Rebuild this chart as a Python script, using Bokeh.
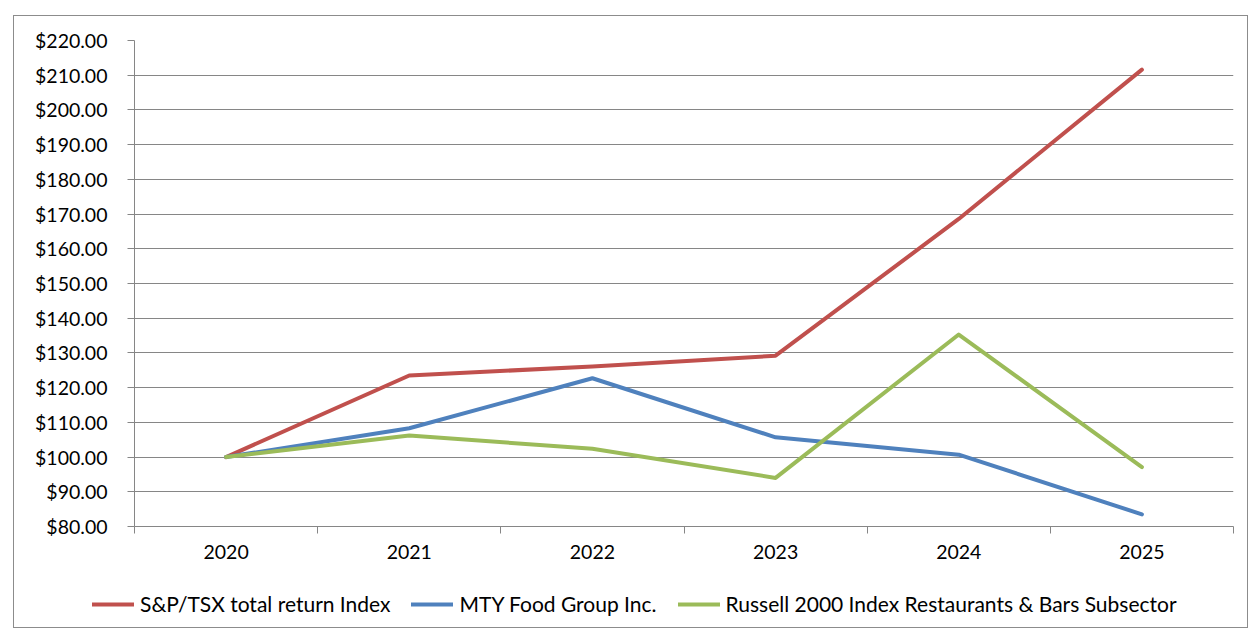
from bokeh.plotting import figure
from bokeh.layouts import column
from bokeh.models import FixedTicker, NumeralTickFormatter, Legend, LegendItem, Range1d
from bokeh.embed import file_html
from bokeh.resources import INLINE

years = ["2020", "2021", "2022", "2023", "2024", "2025"]
sp_tsx = [100.0, 123.5, 126.1, 129.2, 168.6, 211.6]
mty = [100.0, 108.3, 122.7, 105.7, 100.7, 83.5]
russell = [100.0, 106.2, 102.4, 94.0, 135.3, 97.1]
series_names = ["S&P/TSX total return Index", "MTY Food Group Inc.",
                "Russell 2000 Index Restaurants & Bars Subsector"]
y_ticks = list(range(80, 230, 10))

FONT = "Lato"
GRID = "#868686"
colors = ["#C0504D", "#4F81BD", "#9BBB59"]

xs = list(range(len(years)))
series = [sp_tsx, mty, russell]

p = figure(width=1233, height=571, output_backend="svg", toolbar_location=None,
           x_range=Range1d(-0.5, len(years) - 0.5), y_range=Range1d(80, 220),
           min_border_left=120, min_border_top=24, min_border_right=14, min_border_bottom=61)
p.outline_line_color = None
p.background_fill_color = "white"
p.border_fill_color = "white"
p.frame_align = False

for vals, col in zip(series, colors):
    p.line(xs, vals, line_color=col, line_width=4, line_join="round", line_cap="round")

# x axis
p.xaxis.ticker = FixedTicker(ticks=xs, minor_ticks=[i - 0.5 for i in range(len(years) + 1)])
p.xaxis.major_label_overrides = {i: y for i, y in enumerate(years)}
p.xaxis.major_tick_line_color = None
p.xaxis.major_tick_out = 0
p.xaxis.major_tick_in = 0
p.xaxis.minor_tick_line_color = GRID
p.xaxis.minor_tick_out = 7
p.xaxis.minor_tick_in = 0
p.xaxis.axis_line_color = GRID
p.xaxis.major_label_standoff = 11
p.xaxis.major_label_text_font = FONT
p.xaxis.major_label_text_font_size = "19.5px"
p.xaxis.major_label_text_color = "black"
p.xgrid.grid_line_color = None

# y axis
p.yaxis.ticker = FixedTicker(ticks=y_ticks)
p.yaxis.formatter = NumeralTickFormatter(format="$0.00")
p.yaxis.major_tick_line_color = GRID
p.yaxis.major_tick_out = 7
p.yaxis.major_tick_in = 0
p.yaxis.minor_tick_line_color = None
p.yaxis.axis_line_color = GRID
p.yaxis.major_label_standoff = 20
p.yaxis.major_label_text_font = FONT
p.yaxis.major_label_text_font_size = "19.5px"
p.yaxis.major_label_text_color = "black"
p.ygrid.grid_line_color = GRID
p.ygrid.grid_line_width = 1

# legend strip below the chart (its series lines are kept out of view)
p2 = figure(width=1233, height=40, output_backend="svg", toolbar_location=None,
            x_range=Range1d(-0.5, len(years) - 0.5), y_range=Range1d(1000, 1001),
            x_axis_type=None, y_axis_type=None,
            min_border_left=0, min_border_right=0, min_border_top=0, min_border_bottom=0)
p2.frame_align = False
p2.outline_line_color = None
p2.xgrid.grid_line_color = None
p2.ygrid.grid_line_color = None
p2.background_fill_color = "white"
p2.border_fill_color = "white"
items = []
for vals, col, name in zip(series, colors, series_names):
    r = p2.line(xs, vals, line_color=col, line_width=4, line_cap="round")
    items.append(LegendItem(label=name, renderers=[r]))
legend = Legend(items=items, orientation="horizontal", location=(78, 11),
                label_text_font=FONT, label_text_font_size="21px", label_text_color="black",
                glyph_width=42, glyph_height=20, label_standoff=6, spacing=21,
                border_line_color=None, background_fill_alpha=0, margin=0, padding=0)
p2.add_layout(legend, "center")

layout = column(p, p2, spacing=0)
layout.margin = (15, 0, 0, 13)
layout.styles = {"border": "1px solid #8c8c8c"}

open("out.html", "w").write(file_html(layout, INLINE))
